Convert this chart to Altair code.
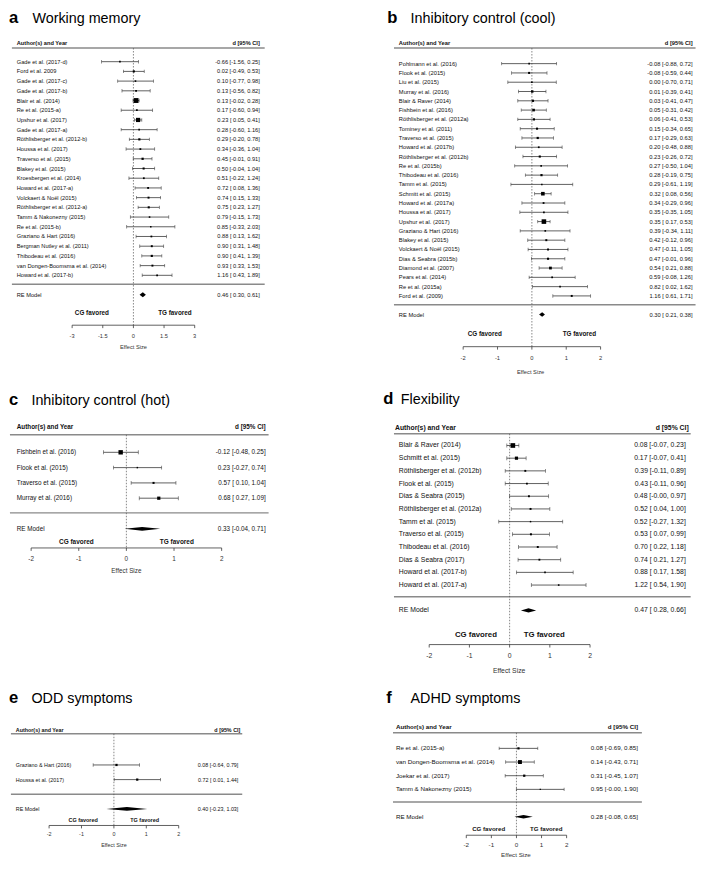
import altair as alt
import pandas as pd

# ---------------- data ----------------
wm_study = ["Gade et al. (2017-d)", "Ford et al. 2009", "Gade et al. (2017-c)", "Gade et al. (2017-b)",
            "Blair et al. (2014)", "Re et al. (2015-a)", "Upshur et al. (2017)", "Gade et al. (2017-a)",
            "Röthlisberger et al. (2012-b)", "Houssa et al. (2017)", "Traverso et al. (2015)",
            "Blakey et al. (2015)", "Kroesbergen et al. (2014)", "Howard et al. (2017-a)",
            "Volckaert & Noël (2015)", "Röthlisberger et al. (2012-a)", "Tamm & Nakonezny (2015)",
            "Re et al. (2015-b)", "Graziano & Hart (2016)", "Bergman Nutley et al. (2011)",
            "Thibodeau et al. (2016)", "van Dongen-Boomsma et al. (2014)", "Howard et al. (2017-b)"]
wm_est = [-0.66, 0.02, 0.10, 0.13, 0.13, 0.17, 0.23, 0.28, 0.29, 0.34, 0.45, 0.50, 0.51, 0.72, 0.74,
          0.75, 0.79, 0.85, 0.88, 0.90, 0.90, 0.93, 1.16]
wm_lb = [-1.56, -0.49, -0.77, -0.56, -0.02, -0.60, 0.05, -0.60, -0.20, -0.36, -0.01, -0.04, -0.22,
         0.08, 0.15, 0.23, -0.15, -0.33, 0.13, 0.31, 0.41, 0.33, 0.43]
wm_ub = [0.25, 0.53, 0.98, 0.82, 0.28, 0.94, 0.41, 1.16, 0.78, 1.04, 0.91, 1.04, 1.24, 1.36, 1.33,
         1.27, 1.73, 2.03, 1.62, 1.48, 1.39, 1.53, 1.89]
wm_re = [0.46, 0.30, 0.61]

cool_study = ["Pohlmann et al. (2016)", "Flook et al. (2015)", "Liu et al. (2015)", "Murray et al. (2016)",
              "Blair & Raver (2014)", "Fishbein et al. (2016)", "Röthlisberger et al. (2012a)",
              "Tominey et al. (2011)", "Traverso et al. (2015)", "Howard et al. (2017b)",
              "Röthlisberger et al. (2012b)", "Re et al. (2015b)", "Thibodeau et al. (2016)",
              "Tamm et al. (2015)", "Schmitt et al. (2015)", "Howard et al. (2017a)", "Houssa et al. (2017)",
              "Upshur et al. (2017)", "Graziano & Hart (2016)", "Blakey et al. (2015)",
              "Volckaert & Noël (2015)", "Dias & Seabra (2015b)", "Diamond et al. (2007)",
              "Pears et al. (2014)", "Re et al. (2015a)", "Ford et al. (2009)"]
cool_est = [-0.08, -0.08, 0.00, 0.01, 0.03, 0.05, 0.06, 0.15, 0.17, 0.20, 0.23, 0.27, 0.28, 0.29, 0.32,
            0.34, 0.35, 0.35, 0.39, 0.42, 0.47, 0.47, 0.54, 0.59, 0.82, 1.16]
cool_lb = [-0.88, -0.59, -0.70, -0.39, -0.41, -0.31, -0.41, -0.34, -0.29, -0.48, -0.26, -0.50, -0.19,
           -0.61, 0.08, -0.29, -0.35, 0.17, -0.34, -0.12, -0.11, -0.01, 0.21, -0.08, 0.02, 0.61]
cool_ub = [0.72, 0.44, 0.71, 0.41, 0.47, 0.42, 0.53, 0.65, 0.63, 0.88, 0.72, 1.04, 0.75, 1.19, 0.56,
           0.96, 1.05, 0.53, 1.11, 0.96, 1.05, 0.96, 0.88, 1.26, 1.62, 1.71]
cool_re = [0.30, 0.21, 0.38]

hot_study = ["Fishbein et al. (2016)", "Flook et al. (2015)", "Traverso et al. (2015)", "Murray et al. (2016)"]
hot_est = [-0.12, 0.23, 0.57, 0.68]
hot_lb = [-0.48, -0.27, 0.10, 0.27]
hot_ub = [0.25, 0.74, 1.04, 1.09]
hot_re = [0.33, -0.04, 0.71]

flex_study = ["Blair & Raver (2014)", "Schmitt et al. (2015)", "Röthlisberger et al. (2012b)",
              "Flook et al. (2015)", "Dias & Seabra (2015)", "Röthlisberger et al. (2012a)",
              "Tamm et al. (2015)", "Traverso et al. (2015)", "Thibodeau et al. (2016)",
              "Dias & Seabra (2017)", "Howard et al. (2017-b)", "Howard et al. (2017-a)"]
flex_est = [0.08, 0.17, 0.39, 0.43, 0.48, 0.52, 0.52, 0.53, 0.70, 0.74, 0.88, 1.22]
flex_lb = [-0.07, -0.07, -0.11, -0.11, -0.004, 0.04, -0.27, 0.07, 0.22, 0.21, 0.17, 0.54]
flex_ub = [0.23, 0.41, 0.89, 0.96, 0.97, 1.00, 1.32, 0.99, 1.18, 1.27, 1.58, 1.90]
flex_re = [0.47, 0.28, 0.66]

odd_study = ["Graziano & Hart (2016)", "Houssa et al. (2017)"]
odd_est = [0.08, 0.72]
odd_lb = [-0.64, 0.01]
odd_ub = [0.79, 1.44]
odd_re = [0.40, -0.23, 1.03]

adhd_study = ["Re et al. (2015-a)", "van Dongen-Boomsma et al. (2014)", "Joekar et al. (2017)",
              "Tamm & Nakonezny (2015)"]
adhd_est = [0.08, 0.14, 0.31, 0.95]
adhd_lb = [-0.69, -0.43, -0.45, -0.004]
adhd_ub = [0.85, 0.71, 1.07, 1.90]
adhd_re = [0.28, -0.08, 0.65]

ticks_a = [-3, -1.5, 0, 1.5, 3]
ticklabels_a = ["-3", "-1.5", "0", "1.5", "3"]
ticks_std = [-2, -1, 0, 1, 2]
ticklabels_std = ["-2", "-1", "0", "1", "2"]

# ---------------- layout ----------------
S = 0.976
FONT = "Liberation Sans"
TXT = "#111111"
LINE = "#3a3a3a"


def fmt(e, l, u):
    return f"{e:.2f} [{l:5.2f}, {u:.2f}]"


def panel(cfg, names, est, lb, ub, re, ticks, ticklabels):
    x0, y0, w, h = cfg["box"]
    W, H = w * S, h * S

    def lx(v):
        return (v - x0) * S

    def ly(v):
        return (v - y0) * S

    zero, k = cfg["zero"], cfg["k"]
    r0, dy = cfg["row0"], cfg["dy"]
    xs = alt.Scale(domain=[(x0 - zero) / k, (x0 + w - zero) / k], nice=False, zero=False)
    ys = alt.Scale(domain=[(y0 - r0) / dy, (y0 + h - r0) / dy], nice=False, zero=False, reverse=True)

    def X(f):
        return alt.X(f, type="quantitative", scale=xs, axis=None)

    def Y(f):
        return alt.Y(f, type="quantitative", scale=ys, axis=None)

    fs = cfg["fs"] * S
    n = len(names)
    df = pd.DataFrame({"study": names, "est": est, "lb": lb, "ub": ub})
    df["row"] = list(range(n))
    prec = 1.0 / (df["ub"] - df["lb"])
    smin, smax = cfg["sq"]
    if prec.max() - prec.min() > 1e-9:
        side = smin + (prec - prec.min()) / (prec.max() - prec.min()) * (smax - smin)
    else:
        side = prec * 0 + (smin + smax) / 2
    df["area"] = (side * S) ** 2

    lab = pd.DataFrame({
        "label": list(names) + ["RE Model"],
        "ci": [fmt(e, l, u) for e, l, u in zip(est, lb, ub)] + [fmt(*re)],
        "row": list(range(n)) + [n + 1],
    })
    dh = cfg["dia_h"] / dy
    dia = pd.DataFrame({"x": [re[1], re[0], re[2]],
                        "lo": [n + 1, n + 1 - dh, n + 1],
                        "hi": [n + 1, n + 1 + dh, n + 1]})
    one = pd.DataFrame({"z": [0]})
    axis_df = pd.DataFrame({"a": [ticks[0]], "b": [ticks[-1]]})
    tick_df = pd.DataFrame({"tick": ticks, "label": ticklabels})

    def T(text, x, y, size, align="left", weight="normal", baseline="middle", color=TXT):
        return alt.Chart(pd.DataFrame({"t": [text]})).mark_text(
            align=align, baseline=baseline, font=FONT, fontSize=size, fontWeight=weight, color=color
        ).encode(x=alt.value(x), y=alt.value(y), text="t:N")

    def HR(x1, x2, y, color, width):
        return alt.Chart(one).mark_rule(color=color, strokeWidth=width).encode(
            x=alt.value(x1), x2=alt.value(x2), y=alt.value(y))

    layers = [
        T(cfg["letter"], lx(cfg["letter_x"]), ly(cfg["title_base"]), 17 * S, weight="bold",
          baseline="alphabetic", color="black"),
        T(cfg["title"], lx(cfg["title_x"]), ly(cfg["title_base"]), 14.7 * S,
          baseline="alphabetic", color="black"),
        T("Author(s) and Year", lx(cfg["head_x"]), ly(cfg["head_y"]), fs, weight="bold"),
        T("d [95% CI]", lx(cfg["head_rx"]), ly(cfg["head_y"]), fs, align="right", weight="bold"),
        HR(lx(cfg["line_x"][0]), lx(cfg["line_x"][1]), ly(cfg["hline_y"]), "#8a8a8a", 1.4),
        HR(lx(cfg["line_x"][0]), lx(cfg["line_x"][1]), ly(cfg["bline_y"]), "#8a8a8a", 1.4),
        # zero reference line
        alt.Chart(one).mark_rule(color="#555555", strokeWidth=0.7, strokeDash=[1.5, 1.5]).encode(
            x=X("z"), y=alt.value(ly(cfg["hline_y"])), y2=alt.value(ly(cfg["axis_y"]))),
        # CIs
        alt.Chart(df).mark_rule(color=LINE, strokeWidth=0.8).encode(
            x=X("lb"), x2=alt.X2("ub"), y=Y("row")),
        alt.Chart(df).mark_tick(orient="vertical", size=cfg["cap"] * S, thickness=0.8, color=LINE).encode(
            x=X("lb"), y=Y("row")),
        alt.Chart(df).mark_tick(orient="vertical", size=cfg["cap"] * S, thickness=0.8, color=LINE).encode(
            x=X("ub"), y=Y("row")),
        alt.Chart(df).mark_square(color="black", opacity=1).encode(
            x=X("est"), y=Y("row"), size=alt.Size("area:Q", scale=None)),
        # RE diamond
        alt.Chart(dia).mark_area(orient="vertical", color="black", opacity=1).encode(
            x=X("x"), y=Y("lo"), y2=alt.Y2("hi")),
        # labels
        alt.Chart(lab).mark_text(align="left", baseline="middle", font=FONT, fontSize=fs, color=TXT).encode(
            x=alt.value(lx(cfg["label_x"])), y=Y("row"), text="label:N"),
        alt.Chart(lab).mark_text(align="right", baseline="middle", font=FONT, fontSize=fs, color=TXT).encode(
            x=alt.value(lx(cfg["ci_x"])), y=Y("row"), text="ci:N"),
        # favored labels
        T("CG favored", lx(cfg["cg_x"]), ly(cfg["fav_y"]), cfg["fav_fs"] * S, align="center", weight="bold"),
        T("TG favored", lx(cfg["tg_x"]), ly(cfg["fav_y"]), cfg["fav_fs"] * S, align="center", weight="bold"),
        # x axis
        alt.Chart(axis_df).mark_rule(color=LINE, strokeWidth=0.8).encode(
            x=X("a"), x2=alt.X2("b"), y=alt.value(ly(cfg["axis_y"]))),
        alt.Chart(tick_df).mark_rule(color=LINE, strokeWidth=0.8).encode(
            x=X("tick"), y=alt.value(ly(cfg["axis_y"])), y2=alt.value(ly(cfg["axis_y"]) + 3 * S)),
        alt.Chart(tick_df).mark_text(align="center", baseline="middle", font=FONT, fontSize=fs,
                                     color="#333333").encode(
            x=X("tick"), y=alt.value(ly(cfg["ticklab_y"])), text="label:N"),
        T("Effect Size", lx(cfg["es_x"]), ly(cfg["es_y"]), fs, align="center", color="#333333"),
    ]
    return alt.layer(*layers).properties(width=W, height=H)


A = dict(box=(2, 0, 352, 385), letter="a", title="Working memory", letter_x=3, title_x=27, title_base=15,
         head_x=11, head_rx=260, head_y=36, hline_y=41, line_x=(6, 265), label_x=11, ci_x=260, fs=5.8,
         row0=55, dy=9.95, zero=130.5, k=20.93, bline_y=283, fav_y=313, cg_x=88, tg_x=173, fav_fs=6.5,
         axis_y=325, ticklab_y=336, es_y=347, es_x=130.5, sq=(1.5, 5.0), cap=3.5, dia_h=2.6)
B = dict(box=(354, 0, 352, 385), letter="b", title="Inhibitory control (cool)", letter_x=390, title_x=414,
         title_base=15, head_x=402, head_rx=703, head_y=36, hline_y=41, line_x=(397, 706), label_x=402,
         ci_x=703, fs=5.9, row0=57, dy=9.52, zero=538.3, k=35.2, bline_y=304, fav_y=334, cg_x=490,
         tg_x=587, fav_fs=6.5, axis_y=347, ticklab_y=359, es_y=373, es_x=537, sq=(1.5, 4.7), cap=3.5,
         dia_h=2.4)
C = dict(box=(2, 385, 352, 305), letter="c", title="Inhibitory control (hot)", letter_x=3, title_x=26,
         title_base=407, head_x=11, head_rx=266, head_y=429, hline_y=437, line_x=(4, 269), label_x=11,
         ci_x=266, fs=6.5, row0=455, dy=15.67, zero=123.3, k=48.8, bline_y=517, fav_y=547, cg_x=72,
         tg_x=175, fav_fs=6.6, axis_y=553, ticklab_y=564, es_y=577, es_x=123.3, sq=(1.5, 4.5), cap=4,
         dia_h=1.9)
D = dict(box=(354, 385, 352, 305), letter="d", title="Flexibility", letter_x=386, title_x=404,
         title_base=405, head_x=398, head_rx=699, head_y=430, hline_y=436, line_x=(397, 701), label_x=402,
         ci_x=696, fs=7.0, row0=448, dy=13.0, zero=515.5, k=41.2, bline_y=603, fav_y=642, cg_x=481,
         tg_x=551, fav_fs=8.0, axis_y=652, ticklab_y=664, es_y=679, es_x=515, sq=(1.5, 4.8), cap=4,
         dia_h=2.2)
E = dict(box=(2, 690, 352, 181), letter="e", title="ODD symptoms", letter_x=3, title_x=26, title_base=712,
         head_x=10, head_rx=240, head_y=739, hline_y=743, line_x=(5, 242), label_x=10, ci_x=238, fs=5.5,
         row0=775, dy=15, zero=110.5, k=33.2, bline_y=805, fav_y=831, cg_x=79, tg_x=142, fav_fs=5.6,
         axis_y=837, ticklab_y=846, es_y=857, es_x=110.5, sq=(2.3, 2.3), cap=3.5, dia_h=1.8)
F = dict(box=(354, 690, 352, 181), letter="f", title="ADHD symptoms", letter_x=389, title_x=414,
         title_base=712, head_x=399, head_rx=647, head_y=736, hline_y=742, line_x=(396, 651), label_x=399,
         ci_x=647, fs=6.4, row0=758, dy=14, zero=522.5, k=25.7, bline_y=813, fav_y=841, cg_x=494,
         tg_x=553, fav_fs=6.3, axis_y=847, ticklab_y=857, es_y=867, es_x=522, sq=(1.3, 4.0), cap=3.5,
         dia_h=1.8)

pa = panel(A, wm_study, wm_est, wm_lb, wm_ub, wm_re, ticks_a, ticklabels_a)
pb = panel(B, cool_study, cool_est, cool_lb, cool_ub, cool_re, ticks_std, ticklabels_std)
pc = panel(C, hot_study, hot_est, hot_lb, hot_ub, hot_re, ticks_std, ticklabels_std)
pd_ = panel(D, flex_study, flex_est, flex_lb, flex_ub, flex_re, ticks_std, ticklabels_std)
pe = panel(E, odd_study, odd_est, odd_lb, odd_ub, odd_re, ticks_std, ticklabels_std)
pf = panel(F, adhd_study, adhd_est, adhd_lb, adhd_ub, adhd_re, ticks_std, ticklabels_std)

chart = alt.concat(pa, pb, pc, pd_, pe, pf, columns=2, spacing=0, bounds="flush").properties(
    padding=0).configure_view(strokeWidth=0)

chart.save("out.html", embed_options={"renderer": "svg", "actions": False})
